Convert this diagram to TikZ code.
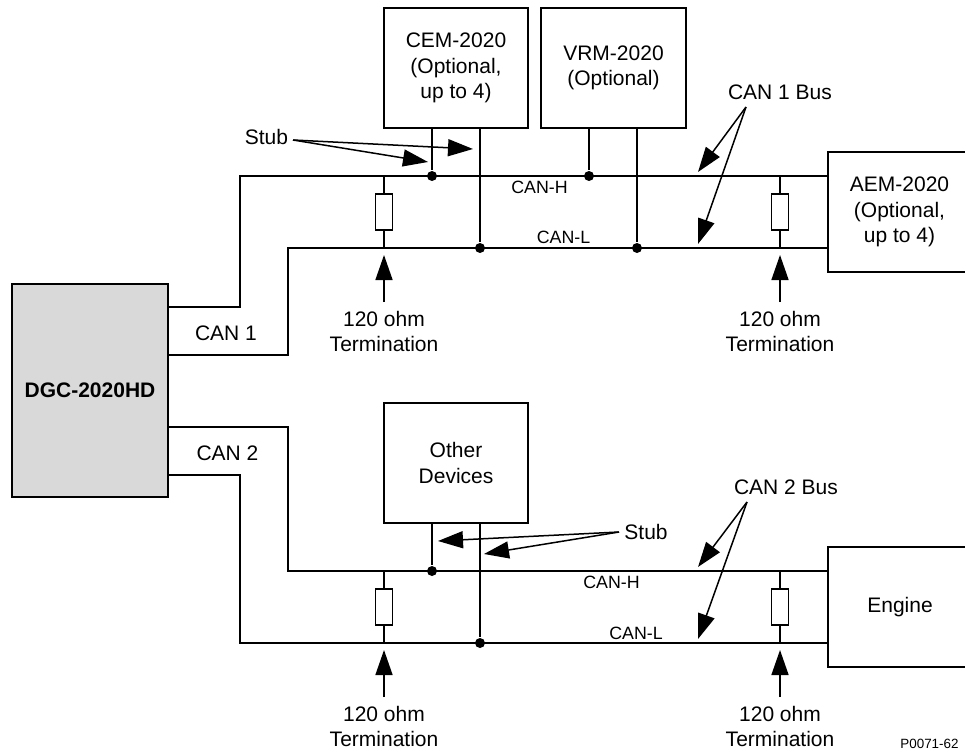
\documentclass[tikz,border=0pt]{standalone}
\usepackage{fontspec}
\setmainfont{Liberation Sans}
\usetikzlibrary{arrows.meta,positioning,calc}
\definecolor{dgcGray}{RGB}{217,217,217}
\begin{document}
\begin{tikzpicture}[
        x=1pt, y=-1pt,
        line width=1.7pt,
        unit/.style={draw, inner sep=0pt, outer sep=0pt, align=center},
        term/.style={draw, fill=white, minimum width=17pt, minimum height=35.5pt, inner sep=0pt, outer sep=0pt},
        joint/.style={circle, fill=black, minimum size=10pt, inner sep=0pt},
        lbl/.style={font=\fontsize{21}{25.5}\selectfont, align=center, inner sep=0pt},
        wirelbl/.style={font=\fontsize{17.8}{20}\selectfont, inner sep=0pt},
        pointer/.style={-{Triangle[length=25pt,width=17pt]}, line width=1.5pt}
      ]
        \useasboundingbox (0,0) rectangle (965,754);
        % Controller
        \node[unit, fill=dgcGray, minimum width=156pt, minimum height=213pt, font=\fontsize{21}{25}\selectfont\bfseries] (dgc) at (90,390.5) {DGC-2020HD};
        \node[lbl] (can1) at (226,333) {CAN 1};
        \node[lbl] (can2) at (227.5,453) {CAN 2};
        % CAN 1 devices
        \node[unit, minimum width=144pt, minimum height=120pt, anchor=north west] (cem) at (384,8) {};
        \node[lbl] (cemtxt) at (456,68) {CEM-2020\\(Optional,\\up to 4)};
        \node[unit, minimum width=145pt, minimum height=120pt, anchor=north west] (vrm) at (541,8) {};
        \node[lbl] (vrmtxt) at (613.5,68) {VRM-2020\\(Optional)};
        \node[unit, minimum width=140pt, minimum height=120pt, anchor=north west] (aem) at (828,152) {};
        \node[lbl] (aemtxt) at (899.5,212) {AEM-2020\\(Optional,\\up to 4)};
        % CAN 2 devices
        \node[unit, minimum width=144pt, minimum height=120pt, anchor=north west] (other) at (384,403) {};
        \node[lbl] (othertxt) at (456,463) {Other\\Devices};
        \node[unit, minimum width=140pt, minimum height=120pt, anchor=north west] (engine) at (828,547) {};
        \node[lbl] (enginetxt) at (900,607) {Engine};
        % CAN 1 wiring
        \coordinate (h1b) at (240,307); \coordinate (h1c) at (240,176);
        \coordinate (l1b) at (288,355); \coordinate (l1c) at (288,248);
        \draw (dgc.east |- h1b) -- (h1b) -- (h1c) -- (aem.west |- h1c);
        \draw (dgc.east |- l1b) -- (l1b) -- (l1c) -- (aem.west |- l1c);
        \node[joint] (j1) at (432,176) {};
        \node[joint] (j2) at (480,248) {};
        \node[joint] (j3) at (589,176) {};
        \node[joint] (j4) at (637,248) {};
        \draw (cem.south -| j1) -- (j1);
        \draw (cem.south -| j2) -- (j2);
        \draw (vrm.south -| j3) -- (j3);
        \draw (vrm.south -| j4) -- (j4);
        \node[wirelbl] (canh1) at (539.5,187.5) {CAN-H};
        \node[wirelbl] (canl1) at (563.5,237.5) {CAN-L};
        % CAN 1 terminations
        \coordinate (t1h) at (384,176); \coordinate (t1l) at (384,248);
        \coordinate (t2h) at (780,176); \coordinate (t2l) at (780,248);
        \node[term] (r1) at (384,212) {};
        \node[term] (r2) at (780,212) {};
        \draw (t1h) -- (r1) -- (t1l);
        \draw (t2h) -- (r2) -- (t2l);
        \node[lbl] (ohm1) at (384,331.5) {120 ohm\\Termination};
        \node[lbl] (ohm2) at (780,331.5) {120 ohm\\Termination};
        \coordinate (up1) at (384,302); \coordinate (tip1) at (384,255);
        \coordinate (up2) at (780,302); \coordinate (tip2) at (780,255);
        \draw[pointer] (up1) -- (tip1);
        \draw[pointer] (up2) -- (tip2);
        % CAN 2 wiring
        \coordinate (h2b) at (288,427); \coordinate (h2c) at (288,571);
        \coordinate (l2b) at (240,475); \coordinate (l2c) at (240,643);
        \draw (dgc.east |- h2b) -- (h2b) -- (h2c) -- (engine.west |- h2c);
        \draw (dgc.east |- l2b) -- (l2b) -- (l2c) -- (engine.west |- l2c);
        \node[joint] (j5) at (432,571) {};
        \node[joint] (j6) at (480,643) {};
        \draw (other.south -| j5) -- (j5);
        \draw (other.south -| j6) -- (j6);
        \node[wirelbl] (canh2) at (611.5,582.5) {CAN-H};
        \node[wirelbl] (canl2) at (636,633) {CAN-L};
        % CAN 2 terminations
        \coordinate (t3h) at (384,571); \coordinate (t3l) at (384,643);
        \coordinate (t4h) at (780,571); \coordinate (t4l) at (780,643);
        \node[term] (r3) at (384,607) {};
        \node[term] (r4) at (780,607) {};
        \draw (t3h) -- (r3) -- (t3l);
        \draw (t4h) -- (r4) -- (t4l);
        \node[lbl] (ohm3) at (384,726.5) {120 ohm\\Termination};
        \node[lbl] (ohm4) at (780,726.5) {120 ohm\\Termination};
        \coordinate (up3) at (384,697); \coordinate (tip3) at (384,650);
        \coordinate (up4) at (780,697); \coordinate (tip4) at (780,650);
        \draw[pointer] (up3) -- (tip3);
        \draw[pointer] (up4) -- (tip4);
        % Stub labels
        \node[lbl] (stub1) at (266.5,137) {Stub};
        \coordinate (s1a) at (428,162); \coordinate (s1b) at (473,149);
        \coordinate (s1) at (293,140);
        \draw[pointer] (s1) -- (s1a);
        \draw[pointer] (s1) -- (s1b);
        \node[lbl] (stub2) at (646,532) {Stub};
        \coordinate (s2) at (619,532); \coordinate (s2a) at (438,541); \coordinate (s2b) at (484,554);
        \draw[pointer] (s2) -- (s2a);
        \draw[pointer] (s2) -- (s2b);
        % Bus labels
        \node[lbl] (bus1) at (780,92) {CAN 1 Bus};
        \coordinate (b1) at (746,107); \coordinate (b1a) at (698,172); \coordinate (b1b) at (698,244);
        \draw[pointer] (b1) -- (b1a);
        \draw[pointer] (b1) -- (b1b);
        \node[lbl] (bus2) at (786,487) {CAN 2 Bus};
        \coordinate (b2) at (747,502); \coordinate (b2a) at (698,567); \coordinate (b2b) at (698,639);
        \draw[pointer] (b2) -- (b2a);
        \draw[pointer] (b2) -- (b2b);
        % Drawing number
        \node[font=\fontsize{13.4}{16}\selectfont, inner sep=0pt] (pnum) at (929.5,744) {P0071-62};
      \end{tikzpicture}
\end{document}
